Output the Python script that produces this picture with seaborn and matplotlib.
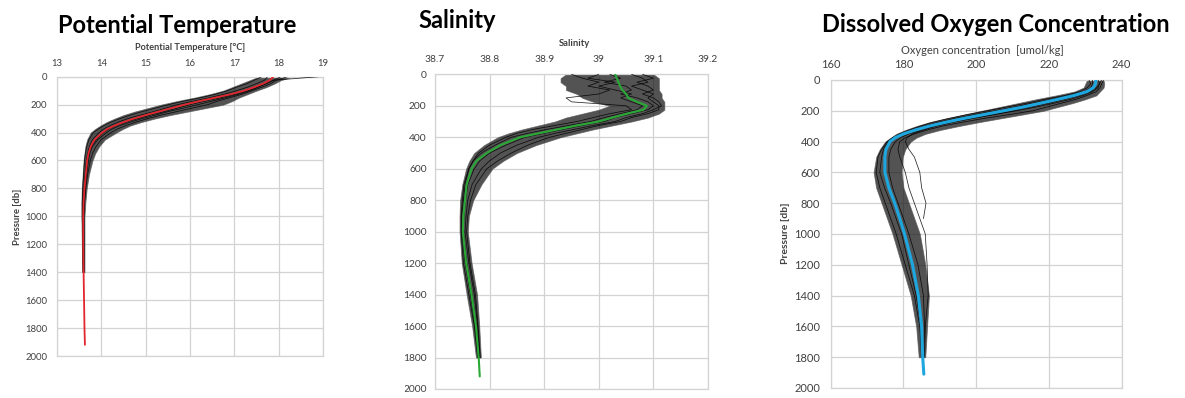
import numpy as np
import pandas as pd
import matplotlib
matplotlib.use("Agg")
import matplotlib.pyplot as plt
from matplotlib.patches import Rectangle
import seaborn as sns

nan = np.nan

# ---------------- Potential temperature ----------------
levels_t = [0, 25, 50, 75, 100, 125, 150, 175, 200, 225, 250, 275, 300, 325, 350,
            375, 400, 450, 500, 550, 600, 700, 800, 900, 1000, 1200, 1400, 1600, 1800, 1920]
mean_t = [17.88, 17.80, 17.65, 17.45, 17.22, 16.93, 16.57, 16.21, 15.88, 15.58, 15.29,
          15.00, 14.73, 14.50, 14.30, 14.13, 14.02, 13.85, 13.76, 13.71, 13.68, 13.65,
          13.62, 13.60, 13.59, 13.59, 13.60, 13.61, 13.62, 13.63]
band_lo_t = [17.55, 17.35, 17.15, 16.95, 16.75, 16.45, 16.10, 15.70, 15.35, 15.05, 14.75,
             14.50, 14.30, 14.12, 13.98, 13.86, 13.76, 13.68, 13.64, 13.62, 13.60, 13.58,
             13.56, 13.55, 13.55, 13.56, 13.57]
band_hi_t = [18.30, 18.05, 17.90, 17.72, 17.50, 17.30, 17.10, 16.95, 16.75, 16.35, 15.95,
             15.55, 15.20, 14.90, 14.65, 14.48, 14.34, 14.08, 13.95, 13.86, 13.80, 13.72,
             13.67, 13.64, 13.62, 13.62, 13.62]
cast_t1 = [18.20, 17.95, 17.82, 17.62, 17.40, 17.18, 16.90, 16.62, 16.40, 16.05, 15.70,
           15.35, 15.05, 14.78, 14.55, 14.36, 14.22, 14.00, 13.88, 13.80, 13.75, 13.69,
           13.65, 13.62, 13.61, 13.61, 13.61]
cast_t2 = [17.62, 17.45, 17.28, 17.05, 16.85, 16.58, 16.25, 15.85, 15.52, 15.22, 14.92,
           14.65, 14.42, 14.22, 14.06, 13.93, 13.82, 13.72, 13.67, 13.64, 13.62, 13.60,
           13.58, 13.57, 13.57, 13.58, 13.59]
cast_t3 = [18.90, 17.90, 17.70, 17.52, 17.30, 17.02, 16.70, 16.35, 16.00, 15.72, 15.42,
           15.10, 14.82, 14.56, 14.34, 14.17, 14.05, 13.88, 13.78, 13.72, 13.69, 13.66,
           13.63, 13.61, 13.60, 13.60, 13.60]
cast_t4 = [17.75, 17.68, 17.50, 17.30, 17.05, 16.78, 16.45, 16.08, 15.72, 15.45, 15.18,
           14.88, 14.60, 14.38, 14.20, 14.05, 13.95, 13.80, 13.73, 13.69, 13.66, 13.63,
           13.61, 13.59, 13.58, 13.58, 13.59]
cast_t5 = [18.05, 17.88, 17.72, 17.55, 17.35, 17.10, 16.80, 16.50, 16.18, 15.85, 15.50,
           15.22, 14.92, 14.65, 14.42, 14.24, 14.12, 13.92, 13.80, 13.74, 13.71, 13.67,
           13.64, 13.62, 13.60, 13.60, 13.61]
xticks_t = [13, 14, 15, 16, 17, 18, 19]
xtick_labels_t = ["13", "14", "15", "16", "17", "18", "19"]

# ---------------- Salinity ----------------
levels_s = [0, 25, 50, 75, 100, 125, 150, 175, 200, 225, 250, 275, 300, 325, 350,
            375, 400, 450, 500, 550, 600, 700, 800, 900, 1000, 1200, 1400, 1600, 1800, 1920]
mean_s = [39.030, 39.033, 39.036, 39.039, 39.043, 39.050, 39.054, 39.070, 39.088, 39.082,
          39.052, 39.025, 39.000, 38.960, 38.925, 38.890, 38.856, 38.820, 38.795, 38.776,
          38.767, 38.758, 38.755, 38.752, 38.751, 38.757, 38.767, 38.775, 38.780, 38.782]
band_lo_s = [38.94, 38.93, 38.93, 38.94, 38.94, 38.96, 38.97, 38.99, 39.02, 39.00, 38.97,
             38.94, 38.92, 38.89, 38.86, 38.835, 38.815, 38.79, 38.772, 38.763, 38.757,
             38.750, 38.746, 38.745, 38.745, 38.749, 38.758, 38.768, 38.775]
band_hi_s = [39.10, 39.11, 39.11, 39.11, 39.11, 39.115, 39.115, 39.12, 39.12, 39.12, 39.11,
             39.09, 39.06, 39.025, 38.99, 38.96, 38.93, 38.885, 38.85, 38.825, 38.805,
             38.785, 38.770, 38.762, 38.760, 38.767, 38.777, 38.781, 38.784]
cast_s1 = [38.95, 38.97, 39.00, 38.98, 39.02, 39.00, 38.94, 38.95, 39.05, 39.06, 39.02,
           38.99, 38.96, 38.92, 38.88, 38.85, 38.83, 38.80, 38.78, 38.77, 38.762, 38.753,
           38.750, 38.748, 38.748, 38.752, 38.762, 38.772, 38.778]
cast_s2 = [39.08, 39.10, 39.07, 39.09, 39.10, 39.08, 39.10, 39.11, 39.115, 39.10, 39.08,
           39.05, 39.03, 38.99, 38.955, 38.92, 38.89, 38.85, 38.82, 38.80, 38.785, 38.768,
           38.760, 38.757, 38.755, 38.762, 38.772, 38.778, 38.782]
cast_s3 = [39.02, 39.04, 39.01, 39.05, 39.06, 39.04, 39.07, 39.09, 39.10, 39.09, 39.06,
           39.03, 39.01, 38.97, 38.935, 38.90, 38.865, 38.83, 38.80, 38.782, 38.772,
           38.760, 38.756, 38.753, 38.752, 38.758, 38.768, 38.776, 38.781]
cast_s4 = [39.00, 38.98, 39.03, 39.00, 39.03, 39.06, 39.04, 39.06, 39.08, 39.07, 39.04,
           39.01, 38.985, 38.945, 38.905, 38.87, 38.84, 38.81, 38.785, 38.77, 38.762,
           38.755, 38.752, 38.749, 38.749, 38.755, 38.765, 38.773, 38.779]
cast_s5 = [39.06, 39.08, 39.09, 39.06, 39.08, 39.10, 39.09, 39.10, 39.11, 39.11, 39.09,
           39.06, 39.04, 39.00, 38.97, 38.94, 38.91, 38.87, 38.84, 38.815, 38.795, 38.775,
           38.765, 38.76, 38.758, 38.764, 38.774, 38.779, 38.783]
xticks_s = [38.7, 38.8, 38.9, 39.0, 39.1, 39.2]
xtick_labels_s = ["38.7", "38.8", "38.9", "39", "39.1", "39.2"]

# ---------------- Dissolved oxygen ----------------
levels_o = [0, 25, 50, 75, 100, 125, 150, 175, 200, 225, 250, 275, 300, 325, 350,
            375, 400, 450, 500, 600, 700, 800, 900, 1000, 1200, 1400, 1600, 1800, 1910]
mean_o = [232.9, 232.8, 232.2, 230.5, 227.0, 222.5, 217.8, 213.0, 207.5, 202.0, 196.5,
          191.5, 187.0, 183.2, 180.0, 177.7, 176.3, 175.2, 174.9, 174.9, 176.0, 177.6,
          179.0, 180.3, 182.5, 184.1, 185.0, 185.3, 185.6]
band_lo_o = [230.5, 230.0, 229.5, 227.0, 222.0, 216.5, 211.5, 206.5, 201.5, 196.5, 191.5,
             187.0, 183.5, 180.5, 178.0, 176.5, 175.0, 173.5, 172.5, 171.8, 172.5, 174.0,
             175.5, 177.0, 179.5, 182.0, 183.5, 184.2]
band_hi_o = [235.0, 235.2, 235.0, 234.0, 233.0, 230.0, 226.5, 222.5, 218.5, 212.5, 206.5,
             200.5, 195.0, 190.0, 186.0, 183.5, 182.0, 180.5, 179.8, 179.5, 180.0, 181.5,
             183.0, 184.5, 186.0, 187.0, 186.5, 186.0]
cast_o1 = [234.5, 233.8, 233.5, 232.0, 229.5, 226.0, 221.5, 216.5, 211.0, 205.0, 199.0,
           193.5, 189.0, 185.5, 182.5, 181.0, 180.5, 181.5, 183.0, 184.5, 185.0, 186.2,
           185.5, nan, nan, nan, nan, nan]
cast_o2 = [231.0, 231.5, 230.5, 228.5, 224.5, 219.0, 214.0, 208.5, 203.0, 197.5, 192.5,
           188.0, 184.5, 181.5, 179.0, 177.0, 175.5, 174.0, 173.0, 172.5, 173.5, 175.0,
           176.5, 178.0, 180.5, 183.0, 184.5, 185.0]
cast_o3 = [233.5, 234.0, 233.0, 231.5, 228.5, 224.5, 220.0, 215.0, 210.0, 204.5, 198.5,
           193.0, 188.5, 184.8, 181.5, 179.2, 177.8, 176.5, 176.0, 176.0, 177.0, 178.5,
           180.0, 181.5, 184.0, 185.5, 185.8, 185.5]
cast_o4 = [232.0, 232.0, 231.5, 229.5, 225.5, 220.5, 215.5, 210.5, 205.0, 199.5, 194.0,
           189.5, 185.5, 182.0, 179.0, 177.0, 175.8, 174.5, 174.0, 173.5, 174.8, 176.5,
           178.0, 179.5, 181.5, 183.5, 184.8, 185.2]
cast_o5 = [235.0, 234.5, 234.0, 233.0, 230.5, 227.5, 223.5, 219.5, 215.5, 209.0, 202.0,
           196.0, 190.5, 186.5, 183.0, 180.5, 179.0, 178.5, 179.0, 180.5, 181.5, 183.0,
           184.5, 186.0, 186.5, 186.8, 186.0, 185.8]
xticks_o = [160, 180, 200, 220, 240]
xtick_labels_o = ["160", "180", "200", "220", "240"]

yticks = [0, 200, 400, 600, 800, 1000, 1200, 1400, 1600, 1800, 2000]
ytick_labels = ["0", "200", "400", "600", "800", "1000", "1200", "1400", "1600", "1800", "2000"]

# ---------------- styling ----------------
sns.set_theme(style="white")
plt.rcParams["font.family"] = ["Lato", "DejaVu Sans"]

W, H = 1185, 398
fig = plt.figure(figsize=(W / 100, H / 100), dpi=100)


def fx(x):
    return x / W


def fy(y):
    return 1 - y / H


def add_axes(left, top, right, bottom):
    return fig.add_axes([fx(left), fy(bottom), fx(right) - fx(left), (bottom - top) / H])


GRID = "#d3d3d3"
TICK = "#404040"


def casts_frame(levels, casts):
    rows = []
    for i, c in enumerate(casts):
        for p, v in zip(levels, c):
            rows.append({"pressure": p, "value": v, "cast": i})
    return pd.DataFrame(rows).dropna()


def draw_panel(ax, levels, mean, lo, hi, casts, mean_color, mean_lw,
               xlim, xticks, xlabels, fs, xpad, ypad):
    nb = len(lo)
    # spread of the individual casts
    ax.fill_betweenx(levels[:nb], lo, hi, color="#111111", alpha=0.72, lw=0.6,
                     edgecolor="#555555", zorder=2)
    df = casts_frame(levels, casts)
    sns.lineplot(data=df, x="value", y="pressure", units="cast", estimator=None,
                 orient="y", color="black", lw=0.55, alpha=0.85, ax=ax, zorder=3,
                 legend=False)
    # mean profile
    sns.lineplot(x=mean, y=levels, orient="y", color=mean_color, lw=mean_lw,
                 ax=ax, zorder=4, legend=False)
    ax.set_xlim(*xlim)
    ax.set_ylim(2000, 0)
    ax.set_xticks(xticks)
    ax.set_xticklabels(xlabels)
    ax.set_yticks(yticks)
    ax.set_yticklabels(ytick_labels)
    ax.xaxis.tick_top()
    ax.grid(True, color=GRID, lw=0.9)
    ax.set_axisbelow(True)
    for s in ax.spines.values():
        s.set_color(GRID)
        s.set_linewidth(0.9)
    ax.tick_params(axis="x", length=0, pad=xpad, labelsize=fs, labelcolor=TICK)
    ax.tick_params(axis="y", length=0, pad=ypad, labelsize=fs, labelcolor=TICK)
    ax.set_xlabel("")
    ax.set_ylabel("")
    ax.set_facecolor("white")


# Panel 1: potential temperature
ax1 = add_axes(57, 76.7, 323, 356)
draw_panel(ax1, levels_t, mean_t, band_lo_t, band_hi_t,
           [cast_t1, cast_t2, cast_t3, cast_t4, cast_t5], "#e3262d", 1.3,
           (13, 19), xticks_t, xtick_labels_t, 6.8, 6.0, 7.0)

# Panel 2: salinity
ax2 = add_axes(435, 74.3, 708, 389)
draw_panel(ax2, levels_s, mean_s, band_lo_s, band_hi_s,
           [cast_s1, cast_s2, cast_s3, cast_s4, cast_s5], "#2aa836", 1.5,
           (38.7, 39.2), xticks_s, xtick_labels_s, 7.4, 7.5, 6.0)

# Panel 3: dissolved oxygen
ax3 = add_axes(830.7, 80, 1121.7, 388)
draw_panel(ax3, levels_o, mean_o, band_lo_o, band_hi_o,
           [cast_o1, cast_o2, cast_o3, cast_o4, cast_o5], "#1ea6de", 2.2,
           (160, 240), xticks_o, xtick_labels_o, 8.0, 7.0, 7.5)

# Titles
TITLE_FS = 17
fig.text(fx(177.5), fy(33.3), "Potential Temperature", ha="center", va="baseline",
         fontsize=TITLE_FS, fontweight="bold", color="black")
fig.text(fx(418), fy(28.3), "Salinity", ha="left", va="baseline",
         fontsize=TITLE_FS, fontweight="bold", color="black")
fig.text(fx(822), fy(31.7), "Dissolved Oxygen Concentration", ha="left", va="baseline",
         fontsize=TITLE_FS, fontweight="bold", color="black")

# Axis titles
fig.text(fx(190), fy(48), "Potential Temperature [°C]", ha="center", va="center",
         fontsize=6.6, fontweight="bold", color="#404040")
fig.text(fx(574), fy(43), "Salinity", ha="center", va="center",
         fontsize=6.8, fontweight="bold", color="#404040")
fig.text(fx(982), fy(50), "Oxygen concentration  [umol/kg]", ha="center", va="center",
         fontsize=8, color="#404040")
fig.text(fx(17), fy(217), "Pressure [db]", ha="center", va="center", rotation=90,
         fontsize=6.8, fontweight="bold", color="#404040")
fig.text(fx(785), fy(233), "Pressure [db]", ha="center", va="center", rotation=90,
         fontsize=7.5, fontweight="bold", color="#404040")

# left edge of the salinity chart frame trims its axis labels
fig.patches.append(Rectangle((fx(388), 0), fx(405) - fx(388), 1, transform=fig.transFigure,
                             facecolor="white", edgecolor="none", zorder=10))

fig.savefig("out.png", dpi=100, facecolor="white")
